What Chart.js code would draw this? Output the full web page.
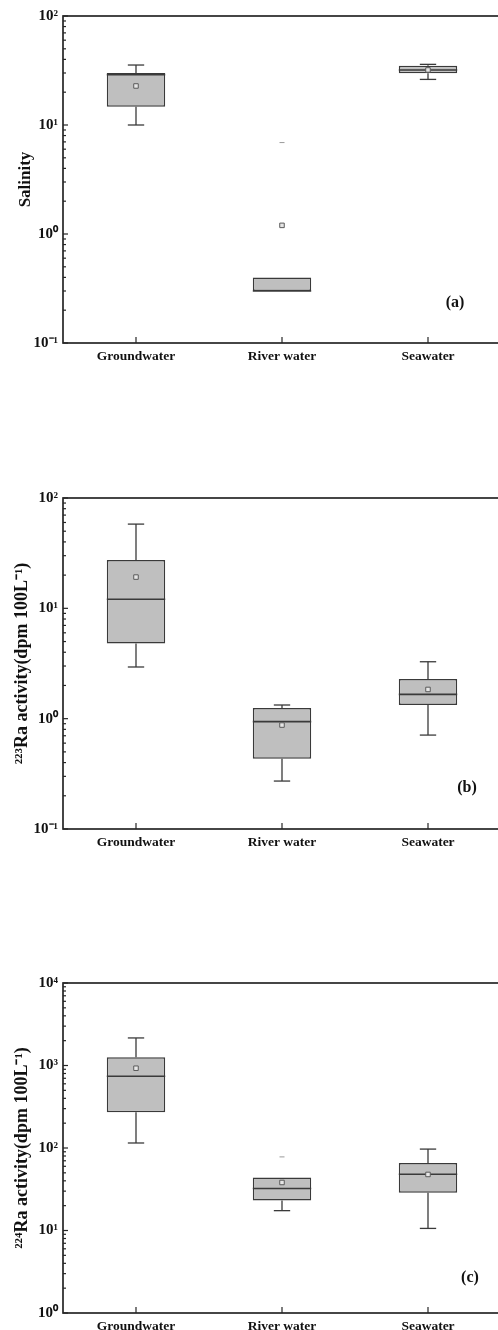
<!DOCTYPE html>
<html>
<head>
<meta charset="utf-8">
<script src="https://cdn.jsdelivr.net/npm/chart.js@4.4.1/dist/chart.umd.min.js"></script>
<style>
  html, body { margin: 0; padding: 0; background: #fff; width: 498px; height: 1330px; overflow: hidden; position: relative; }
  canvas { position: absolute; left: 0; }
</style>
</head>
<body>
<canvas id="grafico-a" width="506" height="370" style="top:0px"></canvas>
<canvas id="grafico-b" width="506" height="386" style="top:470px"></canvas>
<canvas id="grafico-c" width="506" height="385" style="top:955px"></canvas>
<script>
const categorias = ['Groundwater', 'River water', 'Seawater'];

// (a) salinidade
const salMinimo = [10, 0.3, 26.2];
const salQ1 = [14.7, 0.3, 29.8];
const salMediana = [29, 0.3, 32];
const salQ3 = [30, 0.4, 35];
const salMaximo = [35.5, 0.4, 36];
const salMedia = [22.8, 1.2, 32];
const salExtremo = [null, 6.9, null];
const salDecadas = [0.1, 1, 10, 100];

// (b) 223Ra
const ra223Minimo = [2.94, 0.272, 0.71];
const ra223Q1 = [4.8, 0.433, 1.33];
const ra223Mediana = [12.1, 0.94, 1.66];
const ra223Q3 = [27.4, 1.25, 2.29];
const ra223Maximo = [58, 1.33, 3.28];
const ra223Media = [19.2, 0.875, 1.84];
const ra223Extremo = [null, null, null];
const ra223Decadas = [0.1, 1, 10, 100];

// (c) 224Ra
const ra224Minimo = [115, 17.4, 10.6];
const ra224Q1 = [272, 23.1, 28.7];
const ra224Mediana = [741, 32.3, 48];
const ra224Q3 = [1259, 44, 65.6];
const ra224Maximo = [2158, 44, 97];
const ra224Media = [927, 38.2, 47.8];
const ra224Extremo = [null, 78, null];
const ra224Decadas = [1, 10, 100, 1000, 10000];

const FONTE = '"Liberation Serif", "Times New Roman", serif';
const COR_EIXO = '#262626';
const COR_LINHA = '#3a3a3a';

const paineis = [
    {
        canvas: 'grafico-a', topo: 16, letra: '(a)', letraDx: 46, letraDy: 40,
        titulo: 'Salinity', tamTitulo: 17, padTitulo: 15,
        minimo: salMinimo, q1: salQ1, mediana: salMediana, q3: salQ3, maximo: salMaximo,
        media: salMedia, extremo: salExtremo, decadas: salDecadas
    },
    {
        canvas: 'grafico-b', topo: 28, letra: '(b)', letraDx: 34, letraDy: 41,
        titulo: '²²³Ra activity(dpm 100L⁻¹)', tamTitulo: 18, padTitulo: 12,
        minimo: ra223Minimo, q1: ra223Q1, mediana: ra223Mediana, q3: ra223Q3, maximo: ra223Maximo,
        media: ra223Media, extremo: ra223Extremo, decadas: ra223Decadas
    },
    {
        canvas: 'grafico-c', topo: 28, letra: '(c)', letraDx: 31, letraDy: 35,
        titulo: '²²⁴Ra activity(dpm 100L⁻¹)', tamTitulo: 18, padTitulo: 12,
        minimo: ra224Minimo, q1: ra224Q1, mediana: ra224Mediana, q3: ra224Q3, maximo: ra224Maximo,
        media: ra224Media, extremo: ra224Extremo, decadas: ra224Decadas
    }
];

function Sobrescrito(n) {
    const mapa = { '-': '⁻', '0': '⁰', '1': '¹', '2': '²', '3': '³', '4': '⁴', '5': '⁵', '6': '⁶', '7': '⁷', '8': '⁸', '9': '⁹' };
    return String(n).split('').map(c => mapa[c]).join('');
}

function ValoresLog(decadas) {
    const valores = [];
    for (let i = 0; i < decadas.length - 1; i++) {
        for (let m = 1; m <= 9; m++) valores.push(m * decadas[i]);
    }
    valores.push(decadas[decadas.length - 1]);
    return valores;
}

function EhDecada(valor) {
    const e = Math.log10(valor);
    return Math.abs(e - Math.round(e)) < 1e-6;
}

function Linha(ctx, x1, y1, x2, y2) {
    ctx.beginPath();
    ctx.moveTo(x1, y1);
    ctx.lineTo(x2, y2);
    ctx.stroke();
}

// bigodes, mediana, moldura e marcas de escala
function CriarPluginCaixa(painel) {
    return {
        id: 'caixa',
        afterDatasetDraw(chart, args) {
            if (args.index !== 0) return;
            const y = chart.scales.y;
            const ctx = chart.ctx;
            ctx.save();
            ctx.strokeStyle = COR_LINHA;
            args.meta.data.forEach((barra, i) => {
                const meio = barra.x;
                const meia = barra.width / 2;
                const tampa = barra.width * 0.14;
                const yMin = y.getPixelForValue(painel.minimo[i]);
                const yQ1 = y.getPixelForValue(painel.q1[i]);
                const yMed = y.getPixelForValue(painel.mediana[i]);
                const yQ3 = y.getPixelForValue(painel.q3[i]);
                const yMax = y.getPixelForValue(painel.maximo[i]);

                ctx.lineWidth = 1.3;
                if (painel.maximo[i] > painel.q3[i]) {
                    Linha(ctx, meio, yQ3, meio, yMax);
                    Linha(ctx, meio - tampa, yMax, meio + tampa, yMax);
                }
                if (painel.minimo[i] < painel.q1[i]) {
                    Linha(ctx, meio, yQ1, meio, yMin);
                    Linha(ctx, meio - tampa, yMin, meio + tampa, yMin);
                }
                ctx.lineWidth = 1.6;
                Linha(ctx, meio - meia, yMed, meio + meia, yMed);
            });
            ctx.restore();
        },
        afterDraw(chart) {
            const { ctx, chartArea: area } = chart;
            const y = chart.scales.y;
            const x = chart.scales.x;
            ctx.save();
            ctx.strokeStyle = COR_EIXO;
            ctx.lineWidth = 1.2;
            y.ticks.forEach(t => {
                const py = y.getPixelForValue(t.value);
                const comp = EhDecada(t.value) ? 5 : 3;
                Linha(ctx, area.left, py, area.left + comp, py);
            });
            categorias.forEach((c, i) => {
                const px = x.getPixelForValue(i);
                Linha(ctx, px, area.bottom, px, area.bottom - 6);
            });
            ctx.lineWidth = 1.7;
            ctx.strokeRect(area.left, area.top, area.right - area.left, area.bottom - area.top);

            ctx.fillStyle = '#111';
            ctx.font = 'bold 16px ' + FONTE;
            ctx.textAlign = 'center';
            ctx.textBaseline = 'middle';
            ctx.fillText(painel.letra, area.right - painel.letraDx, area.bottom - painel.letraDy);
            ctx.restore();
        }
    };
}

function RenderizarPainel(painel) {
    const ctx = document.getElementById(painel.canvas).getContext('2d');
    const valoresY = ValoresLog(painel.decadas);

    const config = {
        data: {
            labels: categorias,
            datasets: [
                {
                    type: 'bar',
                    data: categorias.map((c, i) => [painel.q1[i], painel.q3[i]]),
                    backgroundColor: '#bfbfbf',
                    borderColor: COR_LINHA,
                    borderWidth: 1.5,
                    borderSkipped: false,
                    barPercentage: 0.8,
                    categoryPercentage: 0.5,
                    order: 2
                },
                {
                    type: 'line',
                    data: painel.extremo,
                    showLine: false,
                    pointStyle: 'line',
                    pointRadius: 2.5,
                    borderColor: '#9a9a9a',
                    borderWidth: 1,
                    order: 1
                },
                {
                    type: 'line',
                    data: painel.media,
                    showLine: false,
                    pointStyle: 'rect',
                    pointRadius: 3.2,
                    backgroundColor: '#e6e6e6',
                    borderColor: '#5a5a5a',
                    borderWidth: 1,
                    order: 0
                }
            ]
        },
        options: {
            responsive: false,
            animation: false,
            events: [],
            layout: { padding: { top: painel.topo, right: 3.5, left: 0, bottom: 0 } },
            plugins: { legend: { display: false }, tooltip: { enabled: false } },
            scales: {
                x: {
                    type: 'category',
                    offset: true,
                    grid: { display: false, drawTicks: false },
                    border: { display: false },
                    ticks: {
                        color: '#111',
                        padding: 5,
                        maxRotation: 0,
                        font: { family: FONTE, size: 13.5, weight: 'bold' }
                    },
                    afterFit(scale) { scale.height = 27; }
                },
                y: {
                    type: 'logarithmic',
                    min: painel.decadas[0],
                    max: painel.decadas[painel.decadas.length - 1],
                    grid: { display: false, drawTicks: false },
                    border: { display: false },
                    afterBuildTicks(scale) {
                        scale.ticks = valoresY.map(v => ({ value: v }));
                    },
                    ticks: {
                        autoSkip: false,
                        color: '#111',
                        padding: 5,
                        font: { family: FONTE, size: 15, weight: 'bold' },
                        callback: (valor) => EhDecada(valor) ? '10' + Sobrescrito(Math.round(Math.log10(valor))) : ''
                    },
                    title: {
                        display: true,
                        text: painel.titulo,
                        color: '#111',
                        padding: { top: painel.padTitulo, bottom: 0 },
                        font: { family: FONTE, size: painel.tamTitulo, weight: 'bold' }
                    },
                    afterFit(scale) { scale.width = 63; }
                }
            }
        },
        plugins: [CriarPluginCaixa(painel)]
    };

    return new Chart(ctx, config);
}

paineis.forEach(p => RenderizarPainel(p));
</script>
</body>
</html>
